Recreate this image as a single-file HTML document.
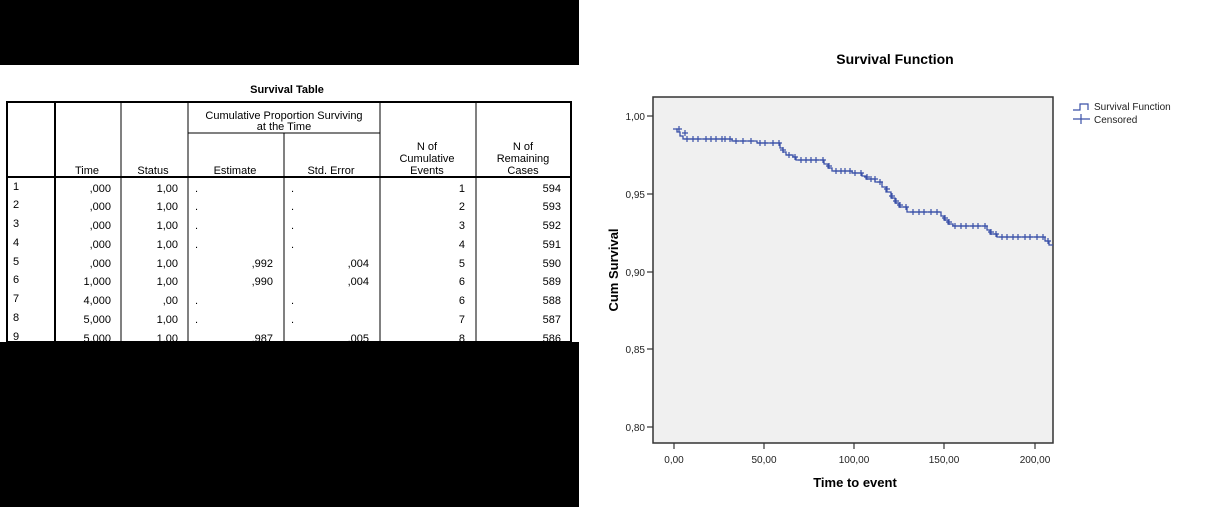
<!DOCTYPE html>
<html><head><meta charset="utf-8"><style>
html,body{margin:0;padding:0;background:#fff;}
body{width:1211px;height:507px;overflow:hidden;position:relative;font-family:"Liberation Sans",Arial,sans-serif;}
</style></head><body>
<svg width="1211" height="507" xmlns="http://www.w3.org/2000/svg" style="position:absolute;left:0;top:0" font-family="Liberation Sans, Arial, sans-serif">
<rect x="0" y="0" width="1211" height="507" fill="#fff"/>
<rect x="0" y="0" width="579" height="65" fill="#000"/>
<rect x="0" y="342" width="579" height="165" fill="#000"/>
<!-- table -->
<text x="287" y="93" font-size="11" font-weight="bold" text-anchor="middle">Survival Table</text>
<g stroke="#000" fill="none">
<rect x="7" y="102" width="564" height="240" stroke-width="2"/>
<line x1="7" y1="177" x2="571" y2="177" stroke-width="2"/>
<line x1="55" y1="102" x2="55" y2="342" stroke-width="2"/>
<line x1="121" y1="102" x2="121" y2="342"/>
<line x1="188" y1="102" x2="188" y2="342"/>
<line x1="284" y1="133" x2="284" y2="342"/>
<line x1="380" y1="102" x2="380" y2="342"/>
<line x1="476" y1="102" x2="476" y2="342"/>
<line x1="188" y1="133" x2="380" y2="133"/>
</g>
<g font-size="11" fill="#000" text-anchor="middle">
<text x="284" y="119">Cumulative Proportion Surviving</text>
<text x="284" y="130">at the Time</text>
<text x="87" y="174">Time</text><text x="153" y="174">Status</text>
<text x="235" y="174">Estimate</text><text x="331" y="174">Std. Error</text>
<text x="427" y="150">N of</text><text x="427" y="162">Cumulative</text><text x="427" y="174">Events</text>
<text x="523" y="150">N of</text><text x="523" y="162">Remaining</text><text x="523" y="174">Cases</text>
</g>
<g font-size="11" fill="#000">
<g text-anchor="start">
<text x="13" y="190">1</text><text x="13" y="208">2</text><text x="13" y="227">3</text><text x="13" y="246">4</text><text x="13" y="265">5</text><text x="13" y="283">6</text><text x="13" y="302">7</text><text x="13" y="321">8</text><text x="13" y="340">9</text>
<text x="195" y="192">.</text><text x="195" y="210">.</text><text x="195" y="229">.</text><text x="195" y="248">.</text><text x="195" y="304">.</text><text x="195" y="323">.</text>
<text x="291" y="192">.</text><text x="291" y="210">.</text><text x="291" y="229">.</text><text x="291" y="248">.</text><text x="291" y="304">.</text><text x="291" y="323">.</text>
</g>
<g text-anchor="end">
<text x="111" y="192">,000</text><text x="111" y="210">,000</text><text x="111" y="229">,000</text><text x="111" y="248">,000</text><text x="111" y="267">,000</text><text x="111" y="285">1,000</text><text x="111" y="304">4,000</text><text x="111" y="323">5,000</text><text x="111" y="342">5,000</text>
<text x="178" y="192">1,00</text><text x="178" y="210">1,00</text><text x="178" y="229">1,00</text><text x="178" y="248">1,00</text><text x="178" y="267">1,00</text><text x="178" y="285">1,00</text><text x="178" y="304">,00</text><text x="178" y="323">1,00</text><text x="178" y="342">1,00</text>
<text x="273" y="267">,992</text><text x="273" y="285">,990</text><text x="273" y="342">,987</text>
<text x="369" y="267">,004</text><text x="369" y="285">,004</text><text x="369" y="342">,005</text>
<text x="465" y="192">1</text><text x="465" y="210">2</text><text x="465" y="229">3</text><text x="465" y="248">4</text><text x="465" y="267">5</text><text x="465" y="285">6</text><text x="465" y="304">6</text><text x="465" y="323">7</text><text x="465" y="342">8</text>
<text x="561" y="192">594</text><text x="561" y="210">593</text><text x="561" y="229">592</text><text x="561" y="248">591</text><text x="561" y="267">590</text><text x="561" y="285">589</text><text x="561" y="304">588</text><text x="561" y="323">587</text><text x="561" y="342">586</text>
</g></g>
<rect x="0" y="342" width="579" height="165" fill="#000"/>
<!-- chart -->
<text x="895" y="64" font-size="14" font-weight="bold" text-anchor="middle">Survival Function</text>
<rect x="653" y="97" width="400" height="346" fill="#f0f0f0" stroke="#333" stroke-width="1.5"/>
<g stroke="#333" stroke-width="1.2">
<line x1="647" y1="116" x2="653" y2="116"/><line x1="647" y1="194" x2="653" y2="194"/><line x1="647" y1="272" x2="653" y2="272"/><line x1="647" y1="349" x2="653" y2="349"/><line x1="647" y1="427" x2="653" y2="427"/>
<line x1="674" y1="443" x2="674" y2="449"/><line x1="764" y1="443" x2="764" y2="449"/><line x1="854" y1="443" x2="854" y2="449"/><line x1="944" y1="443" x2="944" y2="449"/><line x1="1035" y1="443" x2="1035" y2="449"/>
</g>
<g font-size="10" fill="#222" text-anchor="end">
<text x="645" y="120">1,00</text><text x="645" y="198">0,95</text><text x="645" y="276">0,90</text><text x="645" y="353">0,85</text><text x="645" y="431">0,80</text>
</g>
<g font-size="10" fill="#222" text-anchor="middle">
<text x="674" y="463">0,00</text><text x="764" y="463">50,00</text><text x="854" y="463">100,00</text><text x="944" y="463">150,00</text><text x="1035" y="463">200,00</text>
</g>
<text x="855" y="487" font-size="13" font-weight="bold" text-anchor="middle">Time to event</text>
<text transform="translate(618,270) rotate(-90)" font-size="13" font-weight="bold" text-anchor="middle">Cum Survival</text>
<path fill="none" stroke="#3a50a8" stroke-width="1.3" d="M673,129 H677 V132 H680 V136 H683 V139 H732 V141 H757 V143 H780 V148 H783 V152 H786 V155 H793 V157 H796 V160 H824 V164 H828 V168 H832 V171 H852 V173 H862 V176 H866 V179 H875 V182 H882 V187 H886 V192 H891 V198 H895 V203 H899 V207 H907 V212 H941 V216 H944 V220 H948 V224 H953 V226 H987 V230 H990 V234 H997 V237 H1045 V241 H1049 V245 H1053"/>
<path fill="none" stroke="#3a50a8" stroke-width="1.2" d="
M676,129h6M679,126v6 M682,133h6M685,130v6
M684,139h6M687,136v6 M690,139h6M693,136v6 M695,139h6M698,136v6 M703,139h6M706,136v6 M708,139h6M711,136v6 M713,139h6M716,136v6 M719,139h6M722,136v6 M722,139h6M725,136v6 M727,139h6M730,136v6 M733,141h6M736,138v6 M740,141h6M743,138v6 M748,141h6M751,138v6
M757,143h6M760,140v6 M762,143h6M765,140v6 M770,143h6M773,140v6 M776,143h6M779,140v6
M780,150h6M783,147v6 M786,155h6M789,152v6 M792,157h6M795,154v6 M798,160h6M801,157v6 M803,160h6M806,157v6 M808,160h6M811,157v6 M813,160h6M816,157v6 M820,160h6M823,157v6
M826,166h6M829,163v6 M833,171h6M836,168v6 M838,171h6M841,168v6 M842,171h6M845,168v6 M847,171h6M850,168v6 M852,173h6M855,170v6 M858,173h6M861,170v6 M864,177h6M867,174v6 M868,179h6M871,176v6 M872,179h6M875,176v6 M877,182h6M880,179v6
M884,189h6M887,186v6 M889,196h6M892,193v6 M893,201h6M896,198v6 M897,205h6M900,202v6 M903,207h6M906,204v6
M910,212h6M913,209v6 M916,212h6M919,209v6 M921,212h6M924,209v6 M928,212h6M931,209v6 M934,212h6M937,209v6
M942,218h6M945,215v6 M946,222h6M949,219v6 M952,226h6M955,223v6 M958,226h6M961,223v6 M963,226h6M966,223v6 M970,226h6M973,223v6 M975,226h6M978,223v6 M982,226h6M985,223v6
M988,232h6M991,229v6 M993,234h6M996,231v6 M999,237h6M1002,234v6 M1004,237h6M1007,234v6 M1010,237h6M1013,234v6 M1015,237h6M1018,234v6 M1022,237h6M1025,234v6 M1027,237h6M1030,234v6 M1034,237h6M1037,234v6 M1040,237h6M1043,234v6 M1045,241h6M1048,238v6"/>
<!-- legend -->
<path fill="none" stroke="#3a50a8" stroke-width="1.2" d="M1073,110 H1080 V104 H1088 V110"/>
<path fill="none" stroke="#3a50a8" stroke-width="1.2" d="M1073,119 H1090 M1081,114 V124"/>
<text x="1094" y="110" font-size="10" fill="#222">Survival Function</text>
<text x="1094" y="123" font-size="10" fill="#222">Censored</text>
</svg>
</body></html>
